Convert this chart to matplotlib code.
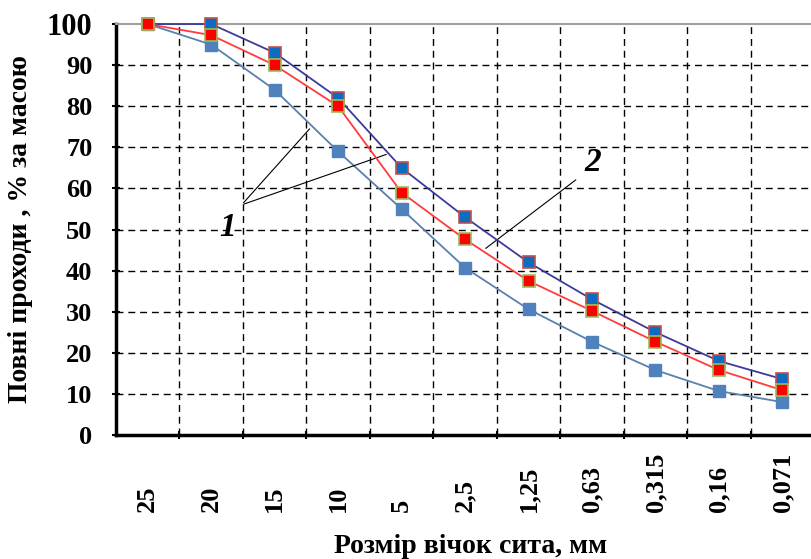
import numpy as np
from matplotlib import pyplot as plt

# sieve sizes (categories) and passing percentages
sieve_labels = ["25", "20", "15", "10", "5", "2,5", "1,25", "0,63", "0,315", "0,16", "0,071"]
upper_curve = [100, 100, 93, 82, 65, 53, 42, 33, 25, 18, 13.6]
middle_curve = [100, 97.3, 90, 80, 59, 47.6, 37.5, 30.2, 22.7, 15.8, 10.9]
lower_curve = [100, 95, 84, 69, 55, 40.7, 30.6, 22.7, 15.8, 10.7, 8]
y_ticks = [0, 10, 20, 30, 40, 50, 60, 70, 80, 90, 100]

font = "Liberation Serif"
x = np.arange(len(sieve_labels))

fig = plt.figure(figsize=(8.11, 5.59), dpi=100)
ax = fig.add_axes([0.143, 0.2218, 0.857, 0.7352])

# lines + markers
ax.plot(x, lower_curve, color="#5a80ad", lw=1.3, marker="s", ms=8.5,
        mfc="#4f81bd", mec="#4f81bd", clip_on=False, zorder=3)
ax.plot(x, upper_curve, color="#3b3b9c", lw=1.3, marker="s", ms=8.5,
        mfc="#0b6cc0", mec="#c0504d", mew=1.2, clip_on=False, zorder=4)
ax.plot(x, middle_curve, color="#ff3b3b", lw=1.3, marker="s", ms=8.5,
        mfc="#ff0000", mec="#9bbb59", mew=1.2, clip_on=False, zorder=5)

ax.set_xlim(-0.5, 10.45)
ax.set_ylim(0, 100)

# dashed grid
ax.set_yticks(y_ticks)
ax.set_xticks(x[:-1] + 0.5)
ax.set_xticklabels([])
for yv in y_ticks[1:-1]:
    ax.axhline(yv, color="black", lw=1, ls=(0, (5, 3.5)), zorder=1)
for xv in x[:-1] + 0.5:
    ax.axvline(xv, color="black", lw=1, ls=(0, (5, 3.5)), zorder=1)

# spines
ax.spines["right"].set_visible(False)
ax.spines["top"].set_color("#a0a0a0")
ax.spines["top"].set_linewidth(1.5)
ax.spines["left"].set_linewidth(2.5)
ax.spines["bottom"].set_linewidth(2.5)

ax.tick_params(axis="both", direction="inout", length=6, width=1.5)
ax.tick_params(axis="y", pad=14)
ax.set_yticklabels([str(v) for v in y_ticks], fontfamily=font,
                   fontweight="bold", fontsize=19)
ax.get_yticklabels()[-1].set_fontsize(22)

# rotated category labels, bottom-aligned
for xi, lab in zip(x, sieve_labels):
    ax.text(xi, -77 / 411, lab, transform=ax.get_xaxis_transform(),
            rotation=90, ha="center", va="bottom", fontfamily=font,
            fontweight="bold", fontsize=19)

ax.set_ylabel("Повні проходи , % за масою", fontfamily=font,
              fontweight="bold", fontsize=20, labelpad=10)
fig.text(0.58, 0.0215, "Розмір вічок сита, мм", ha="center", va="center",
         fontfamily=font, fontweight="bold", fontsize=20)

# curve labels
for end in [(2.58, 75.0), (3.80, 68.5)]:
    ax.annotate("", xy=end, xytext=(1.48, 56.0),
                arrowprops=dict(arrowstyle="-", color="black", lw=0.8))
ax.text(1.26, 50.6, "1", ha="center", va="center", fontfamily=font,
        fontweight="bold", fontstyle="italic", fontsize=24)
ax.annotate("", xy=(6.78, 62.5), xytext=(5.29, 45.0),
            arrowprops=dict(arrowstyle="-", color="black", lw=0.8))
ax.text(7.01, 66.4, "2", ha="center", va="center", fontfamily=font,
        fontweight="bold", fontstyle="italic", fontsize=24)

plt.savefig("out.png", dpi=100)
